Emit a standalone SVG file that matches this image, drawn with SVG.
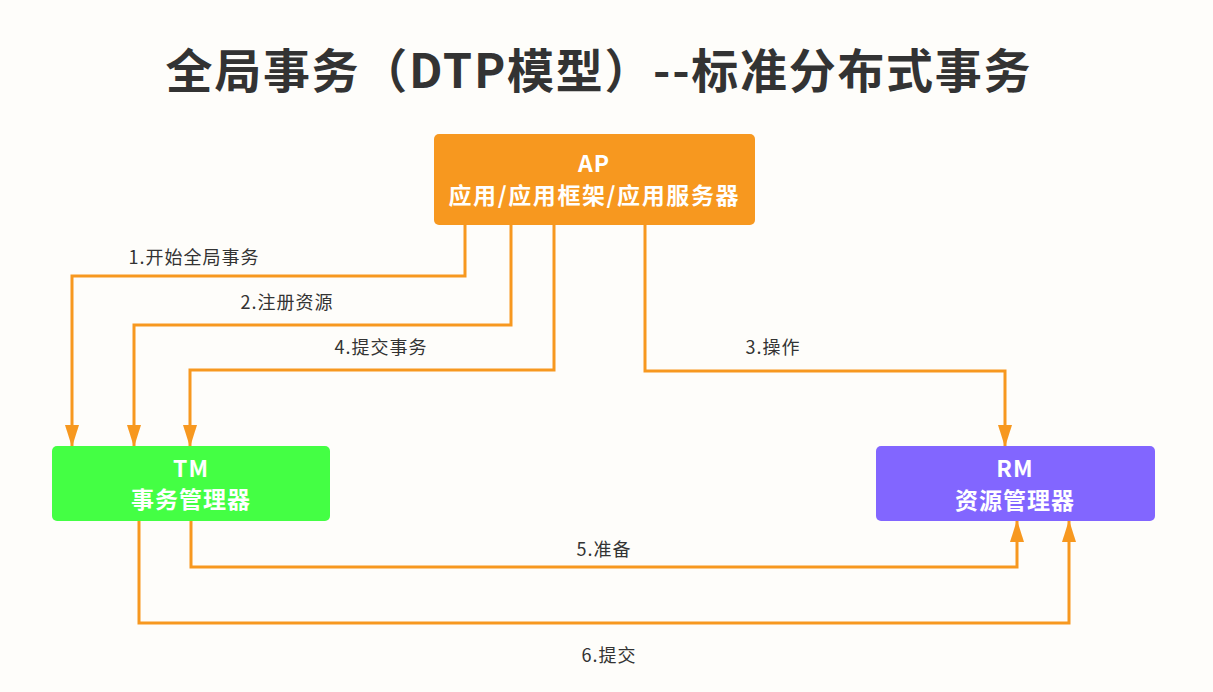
<svg xmlns="http://www.w3.org/2000/svg" width="1213" height="692" viewBox="0 0 1213 692">
<defs>
<marker id="arr" viewBox="0 0 22 14" refX="21" refY="7" markerWidth="22" markerHeight="14" markerUnits="userSpaceOnUse" orient="auto">
<path d="M0,0 L22,7 L0,14 Z" fill="#F7981F"/>
</marker>
<style>
.title{font-family:"Noto Sans CJK SC","Noto Sans",sans-serif;font-weight:bold;font-size:47px;fill:#333333;text-anchor:middle}
.nt{font-family:"Noto Sans CJK SC","Noto Sans",sans-serif;font-weight:bold;font-size:23px;fill:#FFFFFF;text-anchor:middle;letter-spacing:1px}
.lbl{font-family:"Noto Sans CJK SC","Noto Sans",sans-serif;font-size:18px;fill:#333333;text-anchor:middle;letter-spacing:1px}
.c{fill:none;stroke:#F7981F;stroke-width:3}
</style>
</defs>
<rect width="1213" height="692" fill="#FEFDFA"/>
<text class="title" x="598" y="88" textLength="865" lengthAdjust="spacing">全局事务（DTP模型）--标准分布式事务</text>
<g id="connectors">
<path class="c" d="M465,225 V276 H72 V446" marker-end="url(#arr)"/>
<path class="c" d="M511,225 V325 H134 V446" marker-end="url(#arr)"/>
<path class="c" d="M554,225 V370 H190 V446" marker-end="url(#arr)"/>
<path class="c" d="M645,225 V371 H1005 V446" marker-end="url(#arr)"/>
<path class="c" d="M191,521 V567 H1017 V521" marker-end="url(#arr)"/>
<path class="c" d="M139,521 V623 H1069 V521" marker-end="url(#arr)"/>
<text class="lbl" x="194" y="264">1.开始全局事务</text>
<text class="lbl" x="287" y="309">2.注册资源</text>
<text class="lbl" x="381" y="354">4.提交事务</text>
<text class="lbl" x="773" y="354">3.操作</text>
<text class="lbl" x="604" y="556">5.准备</text>
<text class="lbl" x="609" y="662">6.提交</text>
</g>
<g id="AP">
<rect x="434" y="134" width="321" height="91" rx="5" fill="#F7981F"/>
<text class="nt" x="594" y="172">AP</text>
<text class="nt" x="594" y="204" textLength="291" lengthAdjust="spacing">应用/应用框架/应用服务器</text>
</g>
<g id="TM">
<rect x="52" y="446" width="278" height="75" rx="5" fill="#44FF44"/>
<text class="nt" x="191" y="477">TM</text>
<text class="nt" x="191" y="508">事务管理器</text>
</g>
<g id="RM">
<rect x="876" y="446" width="279" height="75" rx="5" fill="#8266FF"/>
<text class="nt" x="1015" y="477">RM</text>
<text class="nt" x="1015" y="509">资源管理器</text>
</g>
</svg>
